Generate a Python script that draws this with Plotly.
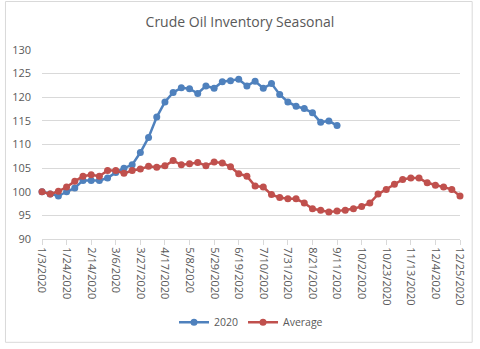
import pandas as pd
import plotly.graph_objects as go

dates = pd.date_range("2020-01-03", periods=52, freq="7D")
series_2020 = [100, 99.5, 99.1, 100.0, 100.8, 102.4, 102.4, 102.4, 102.9, 104.1,
               105.0, 105.7, 108.3, 111.5, 115.8, 119.0, 121.0, 122.0, 121.8, 120.8,
               122.4, 121.9, 123.3, 123.5, 123.8, 122.4, 123.4, 121.9, 122.9, 120.6,
               119.0, 118.1, 117.6, 116.7, 114.7, 115.0, 114.0]
series_avg = [100, 99.5, 100.1, 101.0, 102.2, 103.3, 103.6, 103.3, 104.5, 104.5,
              103.9, 104.5, 104.8, 105.4, 105.2, 105.5, 106.6, 105.7, 105.9, 106.2,
              105.5, 106.3, 106.1, 105.3, 103.8, 103.3, 101.2, 101.0, 99.4, 98.8,
              98.5, 98.5, 97.6, 96.4, 96.1, 95.7, 95.9, 96.1, 96.4, 96.9,
              97.6, 99.5, 100.5, 101.6, 102.6, 102.9, 102.9, 101.9, 101.4, 101.0,
              100.5, 99.1]
tick_dates = dates[::3]
tick_labels = [f"{d.month}/{d.day}/{d.year}" for d in tick_dates]
y_ticks = list(range(90, 131, 5))

BLUE = "#4F81BD"
RED = "#C0504D"
TXT = "#595959"
GRID = "#D9D9D9"
FONT = "Open Sans"

fig = go.Figure()
fig.add_trace(go.Scatter(x=dates[:len(series_2020)], y=series_2020, name="2020",
                         mode="lines+markers", cliponaxis=False,
                         line=dict(color=BLUE, width=2.5),
                         marker=dict(color=BLUE, size=7)))
fig.add_trace(go.Scatter(x=dates, y=series_avg, name="Average",
                         mode="lines+markers", cliponaxis=False,
                         line=dict(color=RED, width=2.5),
                         marker=dict(color=RED, size=7)))

L, R, T, B = 38, 13, 50, 106
W, H = 480, 349
pw, ph = W - L - R, H - T - B

fig.update_layout(
    width=W, height=H,
    margin=dict(l=L, r=R, t=T, b=B, pad=0),
    paper_bgcolor="white", plot_bgcolor="white",
    font=dict(family=FONT, color=TXT, size=11),
    title=dict(text="Crude Oil Inventory Seasonal", x=0.5, xanchor="center",
               y=1 - 22 / H, yanchor="middle",
               font=dict(family=FONT, size=14, color=TXT)),
    showlegend=True,
    legend=dict(orientation="h", x=0.5, xanchor="center",
                y=-(328 - (H - B)) / ph, yanchor="middle",
                font=dict(family=FONT, size=10.5, color=TXT),
                bgcolor="rgba(0,0,0,0)", itemwidth=30, tracegroupgap=0),
    xaxis=dict(range=[dates[0], dates[-1]], tickvals=tick_dates, ticktext=tick_labels,
               tickangle=90, showgrid=False, zeroline=False,
               showline=True, linecolor=GRID, linewidth=1,
               ticks="outside", ticklen=5, tickcolor=GRID,
               tickfont=dict(family=FONT, size=11, color=TXT)),
    yaxis=dict(range=[90, 130], tickvals=y_ticks, showgrid=True, gridcolor=GRID,
               gridwidth=1, zeroline=False, showline=False,
               ticklabelstandoff=10,
               tickfont=dict(family=FONT, size=11, color=TXT)),
    shapes=[dict(type="rect", xref="paper", yref="paper",
                 x0=(0.5 - L) / pw, x1=(W - 0.5 - L) / pw,
                 y0=-(B - 0.5) / ph, y1=1 + (T - 0.5) / ph,
                 line=dict(color=GRID, width=1), fillcolor="rgba(0,0,0,0)",
                 layer="below")],
)

fig.write_html("out.html")
